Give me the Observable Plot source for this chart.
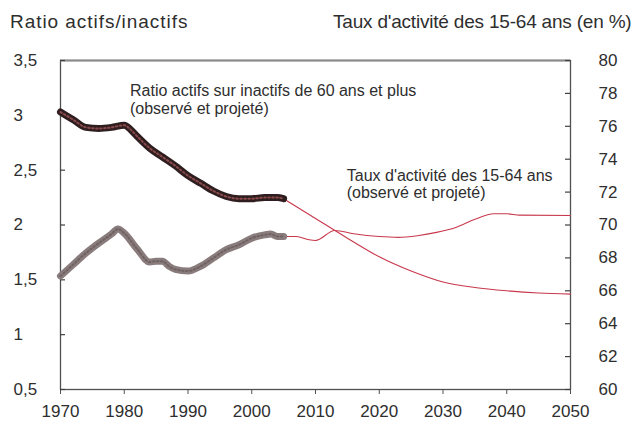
<!DOCTYPE html>
<html><head><meta charset="utf-8">
<script src="https://cdn.jsdelivr.net/npm/d3@7"></script>
<script src="https://cdn.jsdelivr.net/npm/@observablehq/plot@0.6"></script>
<style>
body{margin:0;background:#fff;font-family:"Liberation Sans",Arial,sans-serif;color:#2e2e2e}
#head{position:relative;width:635px;height:36px}
#head span{position:absolute;top:12px;font-size:19px;line-height:19px;white-space:nowrap}
#tl{left:10px;letter-spacing:0.95px}
#tr{left:333px;letter-spacing:-0.2px}
#chart svg{display:block}
</style></head><body>
<div id="head"><span id="tl">Ratio actifs/inactifs</span><span id="tr">Taux d'activité des 15-64 ans (en %)</span></div>
<div id="chart"></div>
<script>
// Ratio actifs sur inactifs de 60 ans et plus (left axis)
const ratioObsYears = [1970, 1972, 1974, 1976, 1978, 1980, 1981, 1982, 1984, 1986, 1988, 1990, 1992, 1994, 1996, 1998, 2000, 2002, 2004, 2005];
const ratioObs      = [3.03, 2.96, 2.89, 2.88, 2.89, 2.91, 2.87, 2.81, 2.70, 2.62, 2.54, 2.45, 2.38, 2.31, 2.26, 2.24, 2.24, 2.25, 2.25, 2.24];
const ratioProjYears = [2005, 2010, 2015, 2020, 2025, 2030, 2035, 2040, 2045, 2050];
const ratioProj      = [2.24, 2.06, 1.88, 1.71, 1.58, 1.48, 1.43, 1.40, 1.38, 1.37];

// Taux d'activité des 15-64 ans, en % (right axis)
const tauxObsYears = [1970, 1972, 1974, 1976, 1978, 1979, 1980, 1982, 1984, 1985, 1986, 1987, 1988, 1990, 1992, 1994, 1996, 1998, 2000, 2002, 2003, 2004, 2005];
const tauxObs      = [66.9, 67.6, 68.3, 68.9, 69.45, 69.75, 69.5, 68.55, 67.75, 67.8, 67.8, 67.5, 67.3, 67.2, 67.5, 68.0, 68.5, 68.8, 69.2, 69.4, 69.45, 69.3, 69.3];
const tauxProjYears = [2005, 2007, 2009, 2010, 2013, 2016, 2020, 2023, 2026, 2029, 2032, 2035, 2038, 2040, 2042, 2050];
const tauxProj      = [69.3, 69.3, 69.1, 69.06, 69.67, 69.47, 69.3, 69.25, 69.35, 69.55, 69.85, 70.35, 70.68, 70.68, 70.6, 70.58];

// Axes
const xTicks = [1970, 1980, 1990, 2000, 2010, 2020, 2030, 2040, 2050];
const leftTicks = [0.5, 1, 1.5, 2, 2.5, 3, 3.5];
const rightTicks = [60, 62, 64, 66, 68, 70, 72, 74, 76, 78, 80];
const leftDomain = [0.5, 3.5];
const rightDomain = [60, 80];

// Annotations
const label1 = ["Ratio actifs sur inactifs de 60 ans et plus", "(observé et projeté)"];
const label1Pos = {year: 1980.9, value: [3.18, 3.015]};
const label2 = ["Taux d'activité des 15-64 ans", "(observé et projeté)"];
const label2Pos = {year: 2014.9, value: [2.405, 2.25]};

// map right-axis values onto the left scale
const toLeft = p => leftDomain[0] + (p - rightDomain[0]) * (leftDomain[1] - leftDomain[0]) / (rightDomain[1] - rightDomain[0]);
const fromLeft = v => rightDomain[0] + (v - leftDomain[0]) * (rightDomain[1] - rightDomain[0]) / (leftDomain[1] - leftDomain[0]);

const zip = (xs, ys, f = d => d) => xs.map((x, i) => ({x, y: f(ys[i])}));
const ratioObsData = zip(ratioObsYears, ratioObs);
const ratioProjData = zip(ratioProjYears, ratioProj);
const tauxObsData = zip(tauxObsYears, tauxObs, toLeft);
const tauxProjData = zip(tauxProjYears, tauxProj, toLeft);

const ink = "#2e2e2e";
const proj = "#c8384c";
const font = 17;

const chart = Plot.plot({
  width: 635,
  height: 390,
  marginTop: 24,
  marginLeft: 60,
  marginRight: 65,
  marginBottom: 37,
  style: {fontFamily: "'Liberation Sans', Arial, sans-serif", color: ink, background: "#fff"},
  x: {domain: [1970, 2050]},
  y: {domain: leftDomain},
  marks: [
    Plot.frame({stroke: "#505050", strokeWidth: 1.3}),
    Plot.ruleY([leftDomain[1]], {stroke: "#8a8a8a", strokeWidth: 2.2}),
    // x axis: ticks outward, labels below
    Plot.axisX(xTicks, {tickSize: 5, tickPadding: 10, tickFormat: d => String(d), fontSize: font, stroke: "#505050", fill: ink, label: null}),
    // left axis labels (left aligned)
    Plot.axisY(leftTicks, {anchor: "left", tickSize: 0, tickPadding: 47, textAnchor: "start", fontSize: font, fill: ink,
      tickFormat: d => String(d).replace(".", ","), label: null}),
    // left inward ticks
    Plot.tickY(leftTicks, {y: d => d, insetRight: 505, stroke: "#404040", strokeWidth: 1.2}),
    // right axis labels
    Plot.axisY(rightTicks.map(toLeft), {anchor: "right", tickSize: 0, tickPadding: 28, textAnchor: "start", fontSize: font, fill: ink,
      tickFormat: v => String(Math.round(fromLeft(v))), label: null}),
    // right inward ticks
    Plot.tickY(rightTicks.map(toLeft), {y: d => d, insetLeft: 505, stroke: "#404040", strokeWidth: 1.2}),
    // projected (thin) lines
    Plot.line(ratioProjData, {x: "x", y: "y", stroke: proj, strokeWidth: 1.1, curve: "monotone-x"}),
    Plot.line(tauxProjData, {x: "x", y: "y", stroke: proj, strokeWidth: 1.1, curve: "monotone-x"}),
    // observed (thick) lines
    Plot.line(tauxObsData, {x: "x", y: "y", stroke: "#8a7c7d", strokeWidth: 7, curve: "monotone-x"}),
    Plot.line(tauxObsData, {x: "x", y: "y", stroke: "#6e6262", strokeWidth: 2, strokeDasharray: "1.5,2.5", curve: "monotone-x"}),
    Plot.line(ratioObsData, {x: "x", y: "y", stroke: "#2f1e1f", strokeWidth: 7, curve: "monotone-x"}),
    Plot.line(ratioObsData, {x: "x", y: "y", stroke: "#8a4a4c", strokeWidth: 2, strokeDasharray: "1.5,2.5", curve: "monotone-x"}),
    // annotations
    Plot.text(label1, {x: () => label1Pos.year, y: (d, i) => label1Pos.value[i], text: d => d, textAnchor: "start", lineAnchor: "bottom", fontSize: 16, fill: ink}),
    Plot.text(label2, {x: () => label2Pos.year, y: (d, i) => label2Pos.value[i], text: d => d, textAnchor: "start", lineAnchor: "bottom", fontSize: 16, fill: ink})
  ]
});
document.getElementById("chart").appendChild(chart);
</script>
</body></html>
